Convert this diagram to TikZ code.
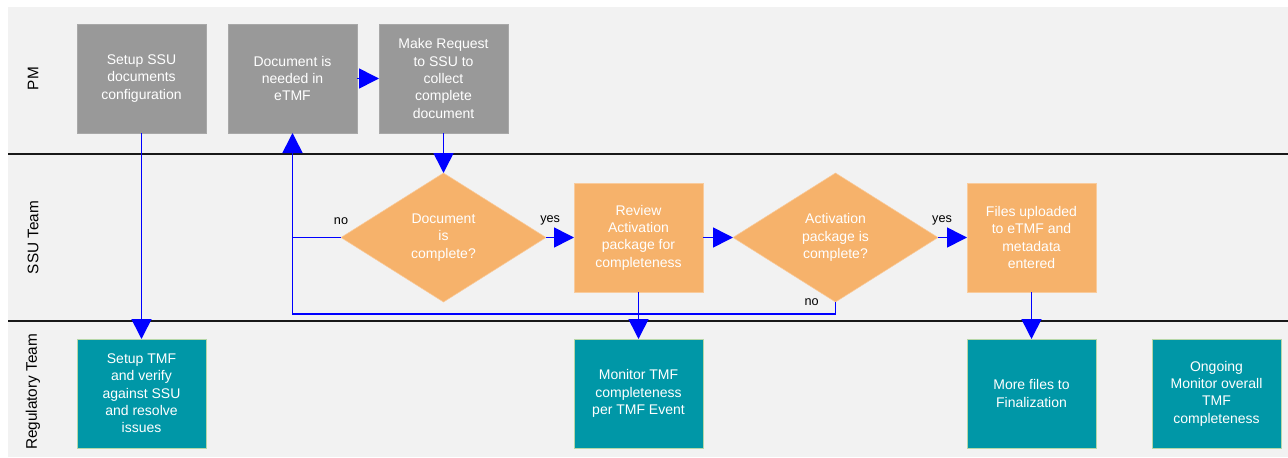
\documentclass[tikz,border=0pt]{standalone}
\usepackage{fontspec}
\setmainfont{Liberation Sans}
\usetikzlibrary{arrows.meta,positioning,shapes.geometric}
\definecolor{lanebg}{HTML}{F2F2F2}
\definecolor{pmgray}{HTML}{999999}
\definecolor{ssuorange}{HTML}{F6B26B}
\definecolor{ssuedge}{HTML}{F9CB9C}
\definecolor{regteal}{HTML}{0097A7}
\definecolor{regedge}{HTML}{B6D7A8}
\definecolor{flowblue}{HTML}{0000FF}
\tikzset{
  box/.style={rectangle, minimum width=96.75pt, minimum height=81.75pt, inner sep=2pt,
    outer sep=0pt, align=center, text=white, font=\fontsize{10.5}{13}\selectfont},
  pmbox/.style={box, fill=pmgray, draw=pmgray!85},
  ssubox/.style={box, fill=ssuorange, draw=ssuedge},
  regbox/.style={box, fill=regteal, draw=regedge},
  decision/.style={diamond, aspect=1.59, minimum width=153.75pt, minimum height=96.75pt,
    inner sep=0pt, outer sep=0pt, fill=ssuorange, draw=ssuedge, align=center, text=white,
    font=\fontsize{10.5}{13}\selectfont},
  lanelabel/.style={rotate=90, font=\fontsize{11.5}{14}\selectfont},
  lbl/.style={inner sep=1pt, font=\fontsize{9.5}{11}\selectfont},
  lane/.style={draw=black!90, line width=1.5pt},
  link/.style={draw=flowblue, line width=1.2pt},
  flow/.style={link, -{Triangle[length=15pt, width=15pt]}},
}
\begin{document}
\begin{tikzpicture}[x=0.75pt, y=-0.75pt]
  \useasboundingbox (0,0) rectangle (1288,457);
  \fill[lanebg] (8,7) rectangle (1288,457);
  \draw[lane] (8,153.5) -- (1288,153.5);
  \draw[lane] (8,321) -- (1288,321);

  % lanes
  \node[lanelabel] (pm) at (33,78.5) {PM};
  \node[lanelabel] (ssu) at (33,237.5) {SSU Team};
  \node[lanelabel] (reg) at (33,392) {Regulatory Team};

  % PM
  \node[pmbox] (setup) at (141.5,78.5) {Setup SSU\\documents\\configuration};
  \node[pmbox, right=16.5pt of setup] (need) {Document is\\needed in\\eTMF};
  \node[pmbox, right=16.5pt of need] (request) {Make Request\\to SSU to\\collect\\complete\\document};

  % SSU Team
  \node[decision, below=30pt of request] (doccheck) {Document\\is\\complete?};
  \node[ssubox, right=21pt of doccheck] (review) {Review\\Activation\\package for\\completeness};
  \node[decision, right=22.5pt of review] (pkgcheck) {Activation\\package is\\complete?};
  \node[ssubox, right=21.75pt of pkgcheck] (upload) {Files uploaded\\to eTMF and\\metadata\\entered};

  % Regulatory Team
  \node[regbox, below=154.5pt of setup] (setuptmf) {Setup TMF\\and verify\\against SSU\\and resolve\\issues};
  \node[regbox, below=35.25pt of review] (monitor) {Monitor TMF\\completeness\\per TMF Event};
  \node[regbox, below=35.25pt of upload] (morefiles) {More files to\\Finalization};
  \node[regbox, right=42pt of morefiles] (ongoing) {Ongoing\\Monitor overall\\TMF\\completeness};

  \coordinate (loop) at (292.5,314);

  \draw[flow] (setup) -- (setuptmf);
  \draw[flow] (need) -- (request);
  \draw[flow] (request) -- (doccheck);
  \draw[link] (doccheck.west) -- node[lbl, pos=0, above=8pt] {no} (doccheck.west -| loop);
  \draw[flow] (pkgcheck.south) |- node[lbl, pos=0, left=11pt] {no} (loop) -- (need.south);
  \draw[flow] (doccheck.east) -- node[lbl, pos=0.15, above=8pt] {yes} (review.west);
  \draw[flow] (review) -- (pkgcheck);
  \draw[flow] (pkgcheck.east) -- node[lbl, pos=0.14, above=8pt] {yes} (upload.west);
  \draw[flow] (review) -- (monitor);
  \draw[flow] (upload) -- (morefiles);
\end{tikzpicture}
\end{document}
